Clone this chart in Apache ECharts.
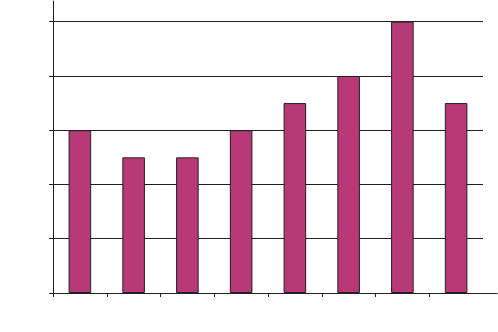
<!DOCTYPE html>
<html>
<head>
<meta charset="utf-8">
<script src="https://cdn.jsdelivr.net/npm/echarts@6/dist/echarts.min.js"></script>
<style>
html,body{margin:0;padding:0;background:#fff;}
#c{width:498px;height:332px;}
</style>
</head>
<body>
<div id="c"></div>
<script>
var categories = ['1','2','3','4','5','6','7','8'];
var values = [3, 2.5, 2.5, 3, 3.5, 4, 5, 3.5];
var yTicks = [0, 1, 2, 3, 4, 5];

var lineCol = '#231f20';
var chart = echarts.init(document.getElementById('c'), null, {renderer: 'canvas'});
var bandW = (498 - 53 - 15) / categories.length;
chart.setOption({
  animation: false,
  grid: [
    {left: 53, right: 15, top: 21.7, bottom: 39},
    {left: 53, right: 1, top: 1, bottom: 39},
    {left: 53 - bandW / 2, right: 15 + bandW / 2, top: 21.7, bottom: 39}
  ],
  xAxis: [
    {gridIndex: 0, type: 'category', data: categories, boundaryGap: true,
     axisLine: {show: false}, axisTick: {show: false}, axisLabel: {show: false}, splitLine: {show: false}},
    {gridIndex: 1, type: 'value', min: 0, max: 1,
     axisLine: {show: true, onZero: false, lineStyle: {color: lineCol, width: 1}},
     axisTick: {show: false}, axisLabel: {show: false}, splitLine: {show: false}},
    {gridIndex: 2, type: 'category', data: categories, boundaryGap: true,
     axisLine: {show: false},
     axisTick: {show: true, alignWithLabel: true, length: 4, lineStyle: {color: lineCol, width: 1}},
     axisLabel: {show: false}, splitLine: {show: false}}
  ],
  yAxis: [
    {gridIndex: 0, type: 'value', min: yTicks[0], max: yTicks[yTicks.length - 1], interval: 1,
     axisLine: {show: false},
     axisTick: {show: true, length: 4, lineStyle: {color: lineCol, width: 1}},
     axisLabel: {show: false},
     splitLine: {show: true, lineStyle: {color: lineCol, width: 1}}},
    {gridIndex: 1, type: 'value', min: 0, max: 1,
     axisLine: {show: true, onZero: false, lineStyle: {color: lineCol, width: 1}},
     axisTick: {show: false}, axisLabel: {show: false}, splitLine: {show: false}},
    {gridIndex: 2, type: 'value', min: 0, max: 1, show: false}
  ],
  series: [{
    type: 'bar',
    xAxisIndex: 0, yAxisIndex: 0,
    data: values,
    barWidth: '42%',
    itemStyle: {color: '#b73a77', borderColor: lineCol, borderWidth: 1}
  }]
});
</script>
</body>
</html>
